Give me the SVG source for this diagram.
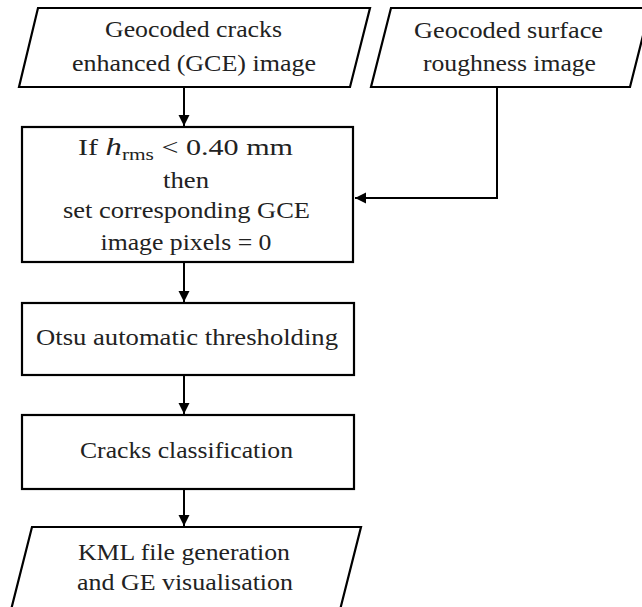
<svg xmlns="http://www.w3.org/2000/svg" width="642" height="607" viewBox="0 0 642 607">
<style>
.shape{fill:#fff;stroke:#000;stroke-width:2.2}
.t{font-family:"Liberation Serif","Times New Roman",serif;font-size:24px;fill:#222;text-anchor:middle}
.c{fill:none;stroke:#000;stroke-width:2}
</style>
<defs>
<marker id="ah" markerUnits="userSpaceOnUse" markerWidth="12" markerHeight="12" refX="11" refY="6" orient="auto" viewBox="0 0 12 12">
<path d="M0,0.5 L11,6 L0,11.5 z" fill="#000"/>
</marker>
</defs>
<rect width="642" height="607" fill="#fff"/>
<g id="connectors">
<path class="c" d="M184,88 V126" marker-end="url(#ah)"/>
<path class="c" d="M497,88 V198 H355" marker-end="url(#ah)"/>
<path class="c" d="M184,263 V302" marker-end="url(#ah)"/>
<path class="c" d="M184,376 V414" marker-end="url(#ah)"/>
<path class="c" d="M184,490 V526" marker-end="url(#ah)"/>
</g>
<g id="gce-image">
<polygon class="shape" points="38,8 370,8 350,87 19,87"/>
<text class="t" x="193.5" y="37" textLength="177" lengthAdjust="spacingAndGlyphs">Geocoded cracks</text>
<text class="t" x="194" y="71" textLength="244" lengthAdjust="spacingAndGlyphs">enhanced (GCE) image</text>
</g>
<g id="roughness-image">
<polygon class="shape" points="391,8 650,8 630,87 371,87"/>
<text class="t" x="508.5" y="38" textLength="189" lengthAdjust="spacingAndGlyphs">Geocoded surface</text>
<text class="t" x="509.5" y="71" textLength="173" lengthAdjust="spacingAndGlyphs">roughness image</text>
</g>
<g id="threshold-rule">
<rect class="shape" x="22" y="127" width="331" height="135"/>
<text class="t" x="185.5" y="155" textLength="215" lengthAdjust="spacingAndGlyphs">If <tspan font-style="italic" font-size="26">h</tspan><tspan font-size="17" dy="5">rms</tspan><tspan dy="-5"> &lt; 0.40 mm</tspan></text>
<text class="t" x="186" y="188" textLength="46" lengthAdjust="spacingAndGlyphs">then</text>
<text class="t" x="186.5" y="218" textLength="247" lengthAdjust="spacingAndGlyphs">set corresponding GCE</text>
<text class="t" x="186" y="250" textLength="171" lengthAdjust="spacingAndGlyphs">image pixels = 0</text>
</g>
<g id="otsu">
<rect class="shape" x="22" y="303" width="332" height="72"/>
<text class="t" x="187" y="345" textLength="302" lengthAdjust="spacingAndGlyphs">Otsu automatic thresholding</text>
</g>
<g id="classification">
<rect class="shape" x="22" y="415" width="332" height="74"/>
<text class="t" x="186.5" y="458" textLength="213" lengthAdjust="spacingAndGlyphs">Cracks classification</text>
</g>
<g id="kml-output">
<polygon class="shape" points="32,527 361,527 340,610 11,610"/>
<text class="t" x="184" y="560" textLength="212" lengthAdjust="spacingAndGlyphs">KML file generation</text>
<text class="t" x="185" y="590" textLength="216" lengthAdjust="spacingAndGlyphs">and GE visualisation</text>
</g>
</svg>
